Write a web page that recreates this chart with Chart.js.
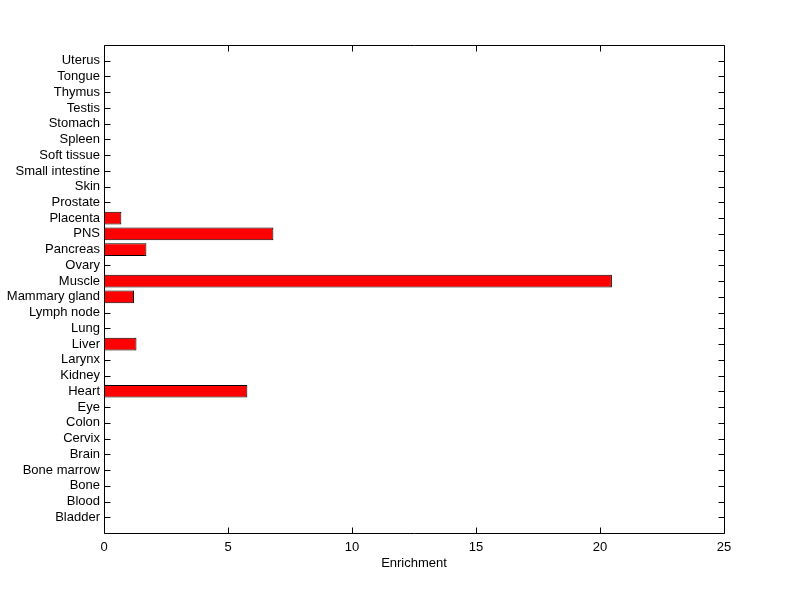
<!DOCTYPE html>
<html>
<head>
<meta charset="utf-8">
<script src="https://cdn.jsdelivr.net/npm/chart.js@4/dist/chart.umd.min.js"></script>
<style>
  body { margin: 0; background: #fff; }
  canvas { display: block; }
</style>
</head>
<body>
<canvas id="enrichChart" width="800" height="599"></canvas>
<script>
// tissues, bottom to top
const tissues = ['Bladder', 'Blood', 'Bone', 'Bone marrow', 'Brain', 'Cervix', 'Colon', 'Eye',
    'Heart', 'Kidney', 'Larynx', 'Liver', 'Lung', 'Lymph node', 'Mammary gland', 'Muscle',
    'Ovary', 'Pancreas', 'PNS', 'Placenta', 'Prostate', 'Skin', 'Small intestine',
    'Soft tissue', 'Spleen', 'Stomach', 'Testis', 'Thymus', 'Tongue', 'Uterus'];
const enrichment = [0, 0, 0, 0, 0, 0, 0, 0,
    5.78, 0, 0, 1.31, 0, 0, 1.21, 20.48,
    0, 1.71, 6.83, 0.70, 0, 0, 0,
    0, 0, 0, 0, 0, 0, 0];
const xTicks = [0, 5, 10, 15, 20, 25];

const FONT = { family: 'Arial, "Liberation Sans", sans-serif', size: 13 };

// box + inward tick marks like matlab axes, drawn under the bars
const boxPlugin = {
    id: 'box',
    beforeDatasetsDraw(chart) {
        const c = chart.ctx;
        const a = chart.chartArea;
        const L = Math.round(a.left) + 0.5, R = Math.round(a.right) + 0.5;
        const T = Math.round(a.top) + 0.5, B = Math.round(a.bottom) + 0.5;
        c.save();
        c.strokeStyle = '#000';
        c.lineWidth = 1;
        c.beginPath();
        c.rect(L, T, R - L, B - T);
        chart.scales.x.ticks.forEach(t => {
            const px = Math.round(chart.scales.x.getPixelForValue(t.value)) + 0.5;
            c.moveTo(px, B); c.lineTo(px, B - 6);
            c.moveTo(px, T); c.lineTo(px, T + 6);
        });
        chart.scales.y.ticks.forEach(t => {
            const py = Math.round(chart.scales.y.getPixelForValue(t.value)) + 0.5;
            c.moveTo(L, py); c.lineTo(L + 6, py);
            c.moveTo(R, py); c.lineTo(R - 6, py);
        });
        c.stroke();
        c.restore();
    }
};

const ctx = document.getElementById('enrichChart').getContext('2d');

const chart = new Chart(ctx, {
    type: 'bar',
    data: {
        datasets: [{
            data: enrichment.map((v, i) => ({ x: v, y: i + 1 })),
            backgroundColor: '#ff0000',
            borderColor: '#000000',
            borderWidth: 1,
            borderSkipped: false,
            barPercentage: 0.8,
            categoryPercentage: 1
        }]
    },
    options: {
        indexAxis: 'y',
        responsive: false,
        animation: false,
        devicePixelRatio: 1,
        layout: { padding: { left: 0, top: 45, right: 76, bottom: 0 } },
        plugins: { legend: { display: false }, tooltip: { enabled: false } },
        scales: {
            x: {
                type: 'linear',
                position: 'bottom',
                min: 0,
                max: 25,
                afterBuildTicks: s => { s.ticks = xTicks.map(v => ({ value: v })); },
                afterFit: s => { s.height = 66; },
                grid: { display: false, drawTicks: false },
                border: { display: false },
                ticks: { color: '#000', font: FONT, padding: 7, maxRotation: 0 },
                title: {
                    display: true,
                    text: 'Enrichment',
                    color: '#000',
                    font: FONT,
                    padding: { top: 4, bottom: 28 }
                }
            },
            y: {
                type: 'linear',
                offset: false,
                min: 0,
                max: 31,
                afterBuildTicks: s => { s.ticks = tissues.map((t, i) => ({ value: i + 1 })); },
                afterFit: s => { s.width = 104; },
                grid: { display: false, drawTicks: false, offset: false },
                border: { display: false },
                ticks: {
                    color: '#000',
                    font: FONT,
                    padding: 4,
                    autoSkip: false,
                    callback: v => tissues[v - 1]
                }
            }
        }
    },
    plugins: [boxPlugin]
});
</script>
</body>
</html>
